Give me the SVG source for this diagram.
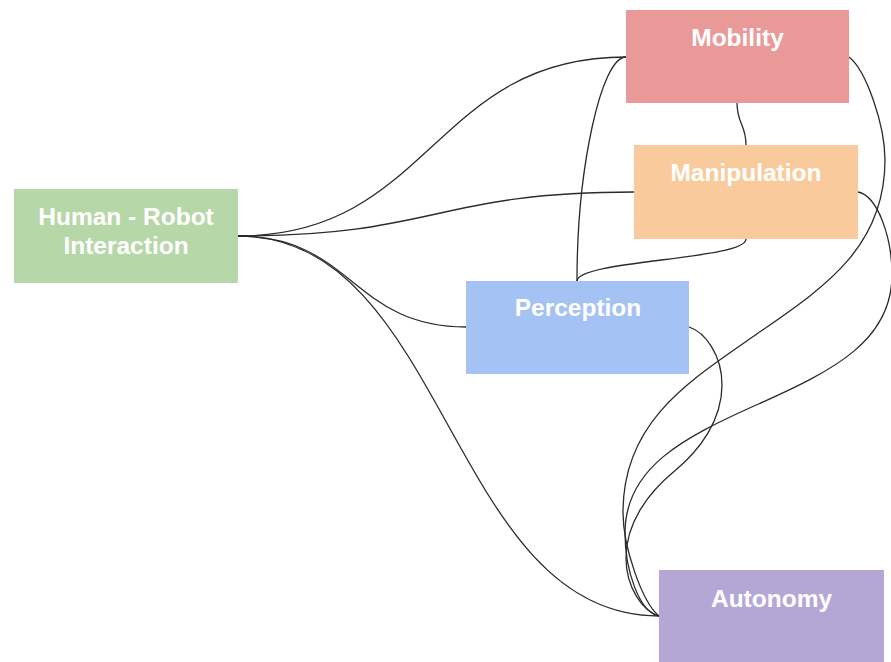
<svg xmlns="http://www.w3.org/2000/svg" width="891" height="662" viewBox="0 0 891 662">
<style>
.lbl{font-family:"Liberation Sans",Arial,sans-serif;font-weight:bold;font-size:24.5px;fill:#ffffff;text-anchor:middle}
.c{fill:none;stroke:#2b2b2b;stroke-width:1.3}
</style>
<rect width="891" height="662" fill="#ffffff"/>
<g id="connectors">
<path class="c" d="M238,236 C432,236 432,57 626,57"/>
<path class="c" d="M238,236 C436,236 436,192 634,192"/>
<path class="c" d="M238,236 C352,236 352,327 466,327"/>
<path class="c" d="M238,236 C448.5,236 448.5,616 659,616"/>
<path class="c" d="M737,103 C737,124 746,124 746,145"/>
<path class="c" d="M626,57 C601,57 577,169 577,281"/>
<path class="c" d="M746,239 C746,260 577,260 577,281"/>
<path class="c" d="M849,57 C866,70 885,125 885,160 C885,250 820,290 754,336 C688,382 623,422 623,512 C623,547 642,602 659,616"/>
<path class="c" d="M858,192 C878,196 892,238 892,275 C892,340 835,370 758.5,404 C682,438 625,468 625,533 C625,570 639,612 659,616"/>
<path class="c" d="M689,327 C705,332 722,355 722,385 C722,420 700,450 674,471.5 C648,493 626,523 626,558 C626,588 643,611 659,616"/>
</g>
<g id="hri">
<rect x="14" y="189" width="224" height="94" fill="#b6d7a8"/>
<text class="lbl" x="126" y="225">Human - Robot</text>
<text class="lbl" x="126" y="254">Interaction</text>
</g>
<g id="mobility">
<rect x="626" y="10" width="223" height="93" fill="#ea9999"/>
<text class="lbl" x="737.5" y="46">Mobility</text>
</g>
<g id="manipulation">
<rect x="634" y="145" width="224" height="94" fill="#f9cb9c"/>
<text class="lbl" x="746" y="181">Manipulation</text>
</g>
<g id="perception">
<rect x="466" y="281" width="223" height="93" fill="#a4c2f4"/>
<text class="lbl" x="578" y="316">Perception</text>
</g>
<g id="autonomy">
<rect x="659" y="570" width="225" height="92" fill="#b4a7d6"/>
<text class="lbl" x="771.5" y="607">Autonomy</text>
</g>
</svg>
